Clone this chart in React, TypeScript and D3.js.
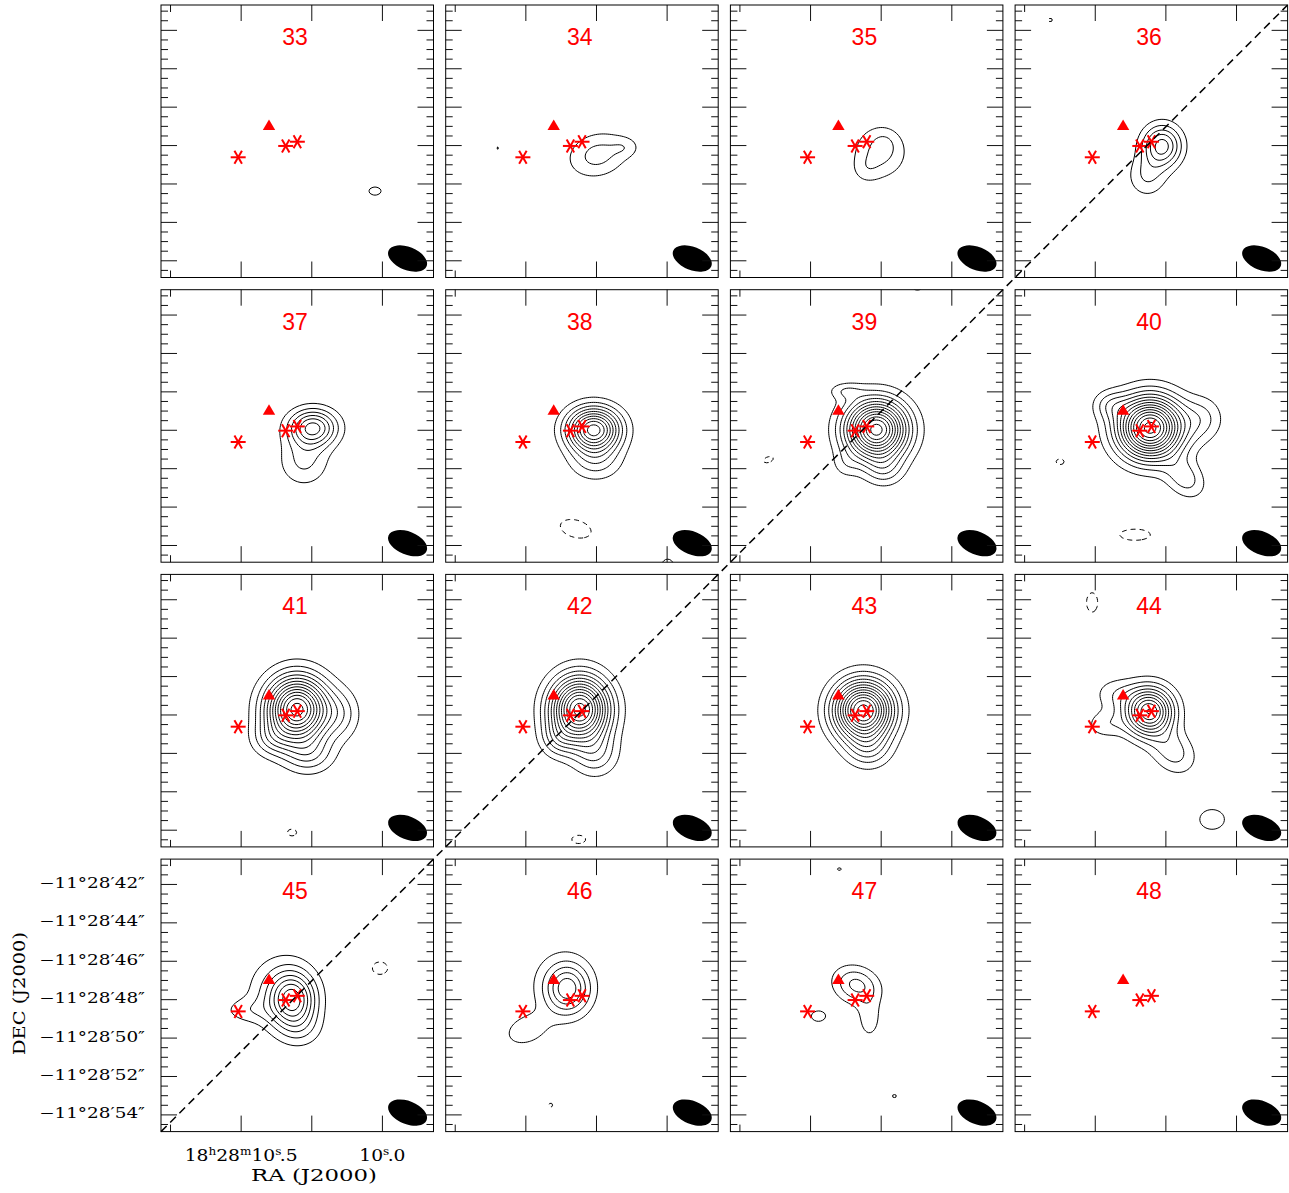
import React, { useMemo } from 'react';
import * as d3 from 'd3';

// channel maps: RA in seconds of 18h28m, Dec in arcsec beyond -11°28'
const channels = [33, 34, 35, 36, 37, 38, 39, 40, 41, 42, 43, 44, 45, 46, 47, 48];
const raRange = [10.7837, 9.8192];
const decRange = [40.68, 54.87];
const raTicksMajor = [10.5, 10.25, 10.0];
const raTicksMinor = [10.75];
const decTicksMajor = [42, 44, 46, 48, 50, 52, 54];
const decTicksMinor = d3.range(41, 54.9, 0.5).filter(d => d % 2 !== 0);
const raLabels = [
  { ra: 10.5, parts: [['18', 'h'], ['28', 'm'], ['10', 's', '.5']] },
  { ra: 10.0, parts: [['10', 's', '.0']] },
];

// red markers (asterisks = YSOs, triangle = maser)
const sources = [
  { ra: 10.5105, dec: 48.61, shape: 'asterisk' },
  { ra: 10.4014, dec: 46.93, shape: 'triangle' },
  { ra: 10.3423, dec: 48.02, shape: 'asterisk' },
  { ra: 10.3012, dec: 47.8, shape: 'asterisk' },
];

// synthesized beam: axes (arcsec) and position angle (deg, N through E)
const beam = { ra: 9.911, dec: 53.88, major: 2.14, minor: 1.2, pa: 68 };

// emission components per channel: [ra(s), dec("), peak (contour steps), sigMaj("), sigMin("), angle(deg, screen cw)]
const ch33 = [[10.0262, 50.37, 1.15, 0.6, 0.4, 0]];
const ch34 = [[10.2457, 48.49, 2.4, 1.1, 0.8, -15], [10.1465, 48.08, 1.0, 0.5, 0.36, 0], [10.5996, 48.13, 1.08, 0.21, 0.16, 0]];
const ch35 = [[10.2527, 48.34, 2.3, 0.95, 0.95, 0], [10.2386, 47.87, 0.6, 0.4, 0.4, 0], [10.3058, 49.27, 0.8, 0.5, 0.5, 0]];
const ch36 = [[10.2633, 48.02, 5.5, 0.7, 0.75, 0], [10.3164, 49.6, 2.0, 0.7, 0.75, 0], [10.6598, 41.46, -1.1, 0.31, 0.21, 0]];
const ch37 = [[10.2457, 47.87, 6.3, 0.86, 0.66, 0], [10.2775, 49.6, 2.2, 0.9, 0.9, 0]];
const ch38 = [[10.2598, 47.97, 10.5, 0.94, 0.78, 0], [10.2527, 49.64, 2.2, 0.94, 0.7, 0], [10.3235, 53.13, -1.4, 1.0, 0.55, 15], [9.998, 55.0, 1.3, 0.4, 0.4, 0]];
const ch39 = [[10.2669, 47.97, 13.5, 1.09, 1.04, 0], [10.3766, 45.95, 1.6, 0.6, 0.3, 0], [10.2386, 50.06, 2.0, 0.7, 0.6, 0], [10.3766, 49.79, 1.0, 0.5, 0.5, 0], [10.6492, 49.53, -1.2, 0.45, 0.25, -20], [10.1218, 40.52, 1.2, 0.45, 0.3, 0]];
const ch40 = [[10.3058, 47.87, 14.5, 1.15, 1.09, 0], [10.4474, 46.67, 2.0, 0.625, 0.52, 0], [10.12, 47.4, 2.0, 0.75, 0.8, 0], [10.1819, 50.5, 2.5, 0.8, 0.6, 45], [10.6244, 49.64, -1.2, 0.35, 0.25, 0], [10.3589, 53.44, -1.3, 1.1, 0.4, 0]];
const ch41 = [[10.3023, 47.71, 13.5, 1.09, 1.15, 0], [10.3943, 49.27, 2.0, 0.73, 0.625, 0], [10.1465, 47.97, 2.0, 0.7, 0.9, 0], [10.2598, 50.06, 2.5, 0.9, 0.7, 0], [10.32, 54.12, -1.2, 0.4, 0.3, 0]];
const ch42 = [[10.3094, 47.71, 13.5, 1.04, 1.15, 0], [10.3872, 49.27, 2.0, 0.625, 0.625, 0], [10.2527, 50.06, 2.5, 0.8, 0.8, 0], [10.3129, 54.48, -1.3, 0.5, 0.3, 0]];
const ch43 = [[10.3129, 47.76, 13.5, 1.04, 1.04, 0], [10.2952, 49.79, 2.5, 0.8, 0.7, 0]];
const ch44 = [[10.3094, 47.82, 10, 0.85, 0.85, 0], [10.2244, 49.9, 2.5, 0.9, 0.7, 45], [10.4651, 48.49, 1.6, 0.7, 0.5, 0], [10.4297, 46.9, 1.5, 0.8, 0.6, 0], [10.0864, 53.44, 1.4, 0.78, 0.625, 0], [10.5111, 42.14, -1.3, 0.4, 0.7, 0]];
const ch45 = [[10.3164, 48.02, 6.0, 0.8, 0.95, 0], [10.36, 47.6, 2.2, 1.2, 1.3, 0], [10.2881, 49.53, 1.3, 0.8, 0.7, 0], [10.483, 48.55, 1.2, 0.9, 0.45, 0], [10.0085, 46.36, -1.3, 0.55, 0.45, 0]];
const ch46 = [[10.3518, 47.45, 4.3, 0.75, 0.85, 0], [10.37, 47.2, 1.6, 1.2, 1.3, 0], [10.5005, 49.6, 1.6, 0.9, 0.6, -20], [10.412, 53.49, -1.1, 0.25, 0.25, 0]];
const ch47 = [[10.3377, 47.24, 3.3, 0.85, 0.65, 20], [10.2917, 49.0, 1.5, 0.45, 0.8, 0], [10.4722, 48.86, 1.25, 0.55, 0.4, 0], [10.2032, 53.02, 1.08, 0.3, 0.22, 0], [10.398, 41.2, 1.1, 0.25, 0.2, 0]];
const ch48: number[][] = [];
const channelComponents = [ch33, ch34, ch35, ch36, ch37, ch38, ch39, ch40, ch41, ch42, ch43, ch44, ch45, ch46, ch47, ch48];

const posLevels = d3.range(1, 16);
const negLevels = [1, 2];

// layout
const W = 1289, H = 1193;
const PANEL = 272.5, PITCH = 284.7, LEFT0 = 161, TOP0 = 5, COLS = 4;
const PAD = 12, STEP = 2;
const N = Math.ceil((PANEL + 2 * PAD) / STEP) + 1;
const COS_DEC = Math.cos((11 + 28.8 / 60) * Math.PI / 180);
const RED = '#ff0000';
const SERIF = '"DejaVu Serif", "Liberation Serif", serif';

const xs = d3.scaleLinear().domain(raRange).range([0, PANEL]);
const ys = d3.scaleLinear().domain(decRange).range([0, PANEL]);

const gridPath = d3.geoPath(d3.geoTransform({
  point(x: number, y: number) {
    this.stream.point(-PAD + (x - 0.5) * STEP, -PAD + (y - 0.5) * STEP);
  },
}));

function field(comps: number[][]) {
  const vals = new Array(N * N).fill(0);
  for (let j = 0; j < N; j++) {
    const dec = ys.invert(-PAD + j * STEP);
    for (let i = 0; i < N; i++) {
      const ra = xs.invert(-PAD + i * STEP);
      let v = 0;
      for (const [cra, cdec, peak, smaj, smin, ang] of comps) {
        const u = (cra - ra) * 15 * COS_DEC;
        const w = dec - cdec;
        const t = ang * Math.PI / 180;
        const a = u * Math.cos(t) + w * Math.sin(t);
        const b = -u * Math.sin(t) + w * Math.cos(t);
        v += peak * Math.exp(-0.5 * (a * a / (smaj * smaj) + b * b / (smin * smin)));
      }
      vals[j * N + i] = v;
    }
  }
  return vals;
}

const Asterisk = ({ x, y }: { x: number; y: number }) => (
  <g transform={`translate(${x},${y})`} stroke={RED} strokeWidth={2}>
    {[0, 60, 120].map(a => (
      <line key={a} x1={-7.5} y1={0} x2={7.5} y2={0} transform={`rotate(${a})`} />
    ))}
  </g>
);

const Panel = ({ ch, k }: { ch: number; k: number }) => {
  const col = k % COLS, row = Math.floor(k / COLS);
  const left = LEFT0 + col * PITCH, top = TOP0 + row * PITCH;
  const { pos, neg } = useMemo(() => {
    const vals = field(channelComponents[k]);
    const pos = d3.contours().size([N, N]).thresholds(posLevels)(vals).filter(c => c.coordinates.length);
    const neg = d3.contours().size([N, N]).thresholds(negLevels)(vals.map(v => -v)).filter(c => c.coordinates.length);
    return { pos, neg };
  }, [k]);
  const isCorner = ch === 45;
  const clipId = `clip${ch}`;
  const bx = xs(beam.ra), by = ys(beam.dec);
  const pxPerArc = PANEL / (decRange[1] - decRange[0]);
  return (
    <g transform={`translate(${left},${top})`}>
      <clipPath id={clipId}><rect width={PANEL} height={PANEL} /></clipPath>
      <g clipPath={`url(#${clipId})`}>
        {pos.map(c => (
          <path key={`p${c.value}`} d={gridPath(c as any) || ''} fill="none" stroke="#000" strokeWidth={1} />
        ))}
        {neg.map(c => (
          <path key={`n${c.value}`} d={gridPath(c as any) || ''} fill="none" stroke="#000" strokeWidth={1} strokeDasharray="5,4" />
        ))}
      </g>
      <ellipse cx={bx} cy={by} rx={beam.major / 2 * pxPerArc} ry={beam.minor / 2 * pxPerArc}
        transform={`rotate(${90 - beam.pa},${bx},${by})`} fill="#000" />
      {sources.map((s, i) => s.shape === 'asterisk'
        ? <Asterisk key={i} x={xs(s.ra)} y={ys(s.dec)} />
        : <path key={i} d="M0,-5.5L6.2,5L-6.2,5Z" transform={`translate(${xs(s.ra)},${ys(s.dec)})`} fill={RED} />)}
      <text x={134} y={40} textAnchor="middle" fill={RED} fontSize={23}
        fontFamily='"Liberation Sans", Arial, sans-serif'>{ch}</text>
      <g stroke="#111" strokeWidth={1}>
        {raTicksMajor.concat(raTicksMinor).map(t => {
          const L = raTicksMajor.includes(t) ? 16 : 7;
          const x = xs(t);
          return (
            <g key={`x${t}`}>
              <line x1={x} x2={x} y1={0} y2={L} />
              <line x1={x} x2={x} y1={PANEL} y2={PANEL - L} />
            </g>
          );
        })}
        {decTicksMajor.concat(decTicksMinor).map(t => {
          const L = decTicksMajor.includes(t) ? 16 : 7;
          const y = ys(t);
          return (
            <g key={`y${t}`}>
              <line x1={0} x2={L} y1={y} y2={y} />
              <line x1={PANEL} x2={PANEL - L} y1={y} y2={y} />
            </g>
          );
        })}
      </g>
      <rect width={PANEL} height={PANEL} fill="none" stroke="#000" strokeWidth={1} />
      {isCorner && (
        <g fontFamily={SERIF} fill="#000">
          {decTicksMajor.map(t => (
            <text key={t} x={-16} y={ys(t) + 3.5} textAnchor="end" fontSize={14.5}
              textLength={106} lengthAdjust="spacingAndGlyphs">
              {`\u221211\u00b028\u2032${t}\u2033`}
            </text>
          ))}
          {raLabels.map(l => (
            <g key={l.ra} transform={`translate(${xs(l.ra)},${PANEL + 29}) scale(1.1,1)`}>
              <text textAnchor="middle" fontSize={17}>
                {l.parts.map((p, i) => (
                  <React.Fragment key={i}>
                    <tspan dy={i === 0 ? 0 : 6}>{p[0]}</tspan>
                    <tspan fontSize={11} dy={-6}>{p[1]}</tspan>
                    {p[2] && <tspan dx={-1.5} dy={6}>{p[2]}</tspan>}
                  </React.Fragment>
                ))}
              </text>
            </g>
          ))}
          <text x={153} y={PANEL + 49} textAnchor="middle" fontSize={17}
            textLength={126} lengthAdjust="spacingAndGlyphs">RA (J2000)</text>
          <text transform={`translate(${25 - left},${993.5 - top}) rotate(-90)`} textAnchor="middle" fontSize={17}
            textLength={123} lengthAdjust="spacingAndGlyphs">DEC (J2000)</text>
        </g>
      )}
    </g>
  );
};

export default function App() {
  // dashed cut from bottom-left corner of channel 45 to top-right corner of channel 36
  const from = channels.indexOf(45), to = channels.indexOf(36);
  const x1 = LEFT0 + (from % COLS) * PITCH, y1 = TOP0 + Math.floor(from / COLS) * PITCH + PANEL;
  const x2 = LEFT0 + (to % COLS) * PITCH + PANEL, y2 = TOP0 + Math.floor(to / COLS) * PITCH;
  return (
    <svg width={W} height={H} style={{ position: 'absolute', left: 0, top: 0, background: '#fff' }}>
      <rect width={W} height={H} fill="#fff" />
      {channels.map((ch, k) => <Panel key={ch} ch={ch} k={k} />)}
      <line x1={x1} y1={y1} x2={x2} y2={y2} stroke="#000" strokeWidth={1.5} strokeDasharray="8,5" />
    </svg>
  );
}
